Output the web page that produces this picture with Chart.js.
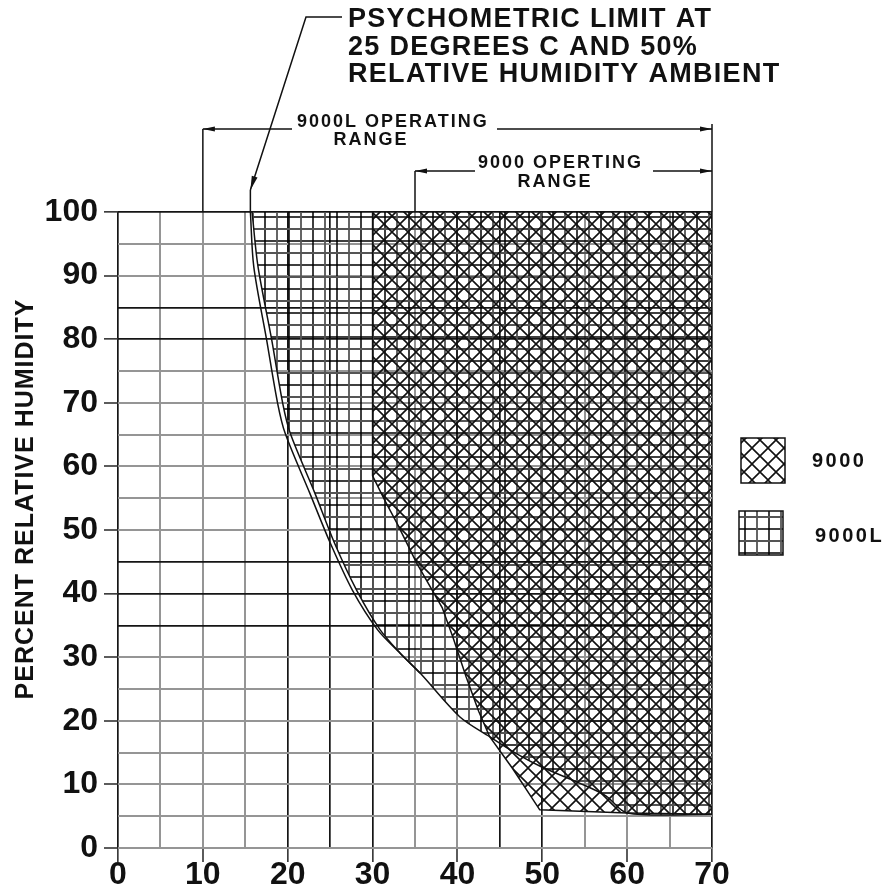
<!DOCTYPE html>
<html>
<head>
<meta charset="utf-8">
<title>Operating range</title>
<script src="https://cdn.jsdelivr.net/npm/chart.js@4.4.1/dist/chart.umd.min.js"></script>
<style>
  html, body { margin: 0; padding: 0; background: #fff; }
  #wrap { width: 888px; height: 892px; position: relative; }
</style>
</head>
<body>
<div id="wrap"><canvas id="chart"></canvas></div>
<script>
// Tick labels
const xTickLabels = [0, 10, 20, 30, 40, 50, 60, 70];
const yTickLabels = [0, 10, 20, 30, 40, 50, 60, 70, 80, 90, 100];

// Grid lines drawn dark instead of grey
const darkX = [0, 20, 25, 30, 45, 50, 70];
const darkY = [100, 85, 80, 45, 40, 35];

// 9000L region, lower/left boundary (inner psychometric line)
const range9000LX = [15.8, 16.5, 18.1, 19.4, 20.3, 23.2, 25.5, 28.1, 30.9, 33.2, 35.6, 40.3, 43.8, 47.0, 50.0, 54.4, 57.5, 60.0, 70.0];
const range9000LY = [100, 91.4, 80, 70, 65.2, 55.8, 48, 40.6, 34.3, 30.7, 27.5, 20.6, 17.5, 14.8, 12.7, 10.2, 8.2, 5.5, 5.3];

// psychometric limit, outer line
const limitX = [15.6, 16.0, 17.5, 18.8, 19.7, 22.6, 25.0, 27.6, 30.6, 33.2, 35.6];
const limitY = [100, 91.4, 80, 70, 65.2, 55.8, 48, 40.6, 34.3, 30.7, 27.5];

// 9000 region boundary
const range9000X = [30, 30, 31.5, 32.9, 35.2, 38.2, 39.5, 41.0, 42.5, 43.8, 46.5, 49.7, 60, 70];
const range9000Y = [100, 58.5, 54.5, 51, 44.8, 37.8, 33, 27, 21.5, 17.5, 12.5, 6, 5.5, 5.3];

// operating range dimension lines (x values)
const range9000LSpan = [10, 70];
const range9000Span = [35, 70];

const boldFont = "'Liberation Sans', Arial, sans-serif";
const narrowFont = "'Liberation Sans Narrow', 'Liberation Sans', Arial, sans-serif";

function toPoints(xs, ys) {
    return xs.map((x, i) => ({ x: x, y: ys[i] }));
}

// hatch patterns
function gridPattern() {
    const s = 24;
    const c = document.createElement('canvas');
    c.width = s; c.height = s;
    const g = c.getContext('2d');
    g.strokeStyle = '#000';
    g.lineWidth = 1.5;
    g.beginPath();
    g.moveTo(1, 0); g.lineTo(1, s);
    g.moveTo(0, 1); g.lineTo(s, 1);
    g.stroke();
    g.strokeStyle = '#555';
    g.lineWidth = 1.8;
    g.beginPath();
    g.moveTo(13, 0); g.lineTo(13, s);
    g.moveTo(0, 13); g.lineTo(s, 13);
    g.stroke();
    return g.createPattern(c, 'repeat');
}

function crossPattern() {
    const s = 16;
    const c = document.createElement('canvas');
    c.width = s; c.height = s;
    const g = c.getContext('2d');
    g.strokeStyle = '#111';
    g.lineWidth = 1.6;
    g.beginPath();
    [-s, 0, s].forEach(o => {
        g.moveTo(o, 0); g.lineTo(o + s, s);
        g.moveTo(o + s, 0); g.lineTo(o, s);
    });
    g.stroke();
    return g.createPattern(c, 'repeat');
}

const gridFill = gridPattern();
const crossFill = crossPattern();

function arrowHead(ctx, x1, y1, x2, y2, len, half) {
    const a = Math.atan2(y2 - y1, x2 - x1);
    ctx.beginPath();
    ctx.moveTo(x2, y2);
    ctx.lineTo(x2 - len * Math.cos(a) + half * Math.sin(a), y2 - len * Math.sin(a) - half * Math.cos(a));
    ctx.lineTo(x2 - len * Math.cos(a) - half * Math.sin(a), y2 - len * Math.sin(a) + half * Math.cos(a));
    ctx.closePath();
    ctx.fill();
}

function line(ctx, pts) {
    ctx.beginPath();
    ctx.moveTo(pts[0][0], pts[0][1]);
    for (let i = 1; i < pts.length; i++) ctx.lineTo(pts[i][0], pts[i][1]);
    ctx.stroke();
}

// annotations, legend and axis title
const annotations = {
    id: 'annotations',
    afterDraw(chart) {
        const ctx = chart.ctx;
        const xs = chart.scales.x, ys = chart.scales.y;
        const top = ys.getPixelForValue(100);
        ctx.save();
        ctx.fillStyle = '#111';
        ctx.strokeStyle = '#111';
        ctx.lineWidth = 1.5;

        // psychometric limit note
        ctx.font = 'bold 27px ' + boldFont;
        ctx.letterSpacing = '1.3px';
        ctx.textAlign = 'left';
        ctx.textBaseline = 'alphabetic';
        ctx.fillText('PSYCHOMETRIC LIMIT AT', 348, 27);
        ctx.fillText('25 DEGREES C AND 50%', 348, 55);
        ctx.fillText('RELATIVE HUMIDITY AMBIENT', 348, 82);
        const tipX = xs.getPixelForValue(limitX[0]);
        line(ctx, [[342, 17], [306, 17], [tipX, 190]]);
        arrowHead(ctx, 306, 17, tipX, 190, 14, 3);
        line(ctx, [[tipX, 190], [tipX, top]]);

        // 9000L operating range
        ctx.font = 'bold 18px ' + boldFont;
        ctx.letterSpacing = '2px';
        const l0 = xs.getPixelForValue(range9000LSpan[0]);
        const l1 = xs.getPixelForValue(range9000LSpan[1]);
        ctx.fillText('9000L OPERATING', 297, 127);
        ctx.textAlign = 'center';
        ctx.fillText('RANGE', 371, 145);
        line(ctx, [[l0, 129], [l0, top]]);
        line(ctx, [[l1, 124], [l1, top]]);
        line(ctx, [[292, 129], [l0, 129]]);
        arrowHead(ctx, 292, 129, l0, 129, 12, 2.5);
        line(ctx, [[497, 129], [l1, 129]]);
        arrowHead(ctx, 497, 129, l1, 129, 12, 2.5);

        // 9000 operating range
        const r0 = xs.getPixelForValue(range9000Span[0]);
        ctx.textAlign = 'left';
        ctx.fillText('9000 OPERTING', 478, 168);
        ctx.textAlign = 'center';
        ctx.fillText('RANGE', 555, 187);
        line(ctx, [[r0, 171], [r0, top]]);
        line(ctx, [[475, 171], [r0, 171]]);
        arrowHead(ctx, 475, 171, r0, 171, 12, 2.5);
        line(ctx, [[653, 171], [l1, 171]]);
        arrowHead(ctx, 653, 171, l1, 171, 12, 2.5);

        // legend
        ctx.lineWidth = 1.5;
        ctx.fillStyle = crossFill;
        ctx.fillRect(741, 438, 44, 45);
        ctx.strokeRect(741, 438, 44, 45);
        ctx.fillStyle = gridFill;
        ctx.fillRect(739, 511, 44, 44);
        ctx.strokeRect(739, 511, 44, 44);
        ctx.fillStyle = '#111';
        ctx.textAlign = 'left';
        ctx.textBaseline = 'middle';
        ctx.font = 'bold 20px ' + boldFont;
        ctx.letterSpacing = '2.5px';
        ctx.fillText('9000', 812, 461);
        ctx.fillText('9000L', 815, 536);

        // y axis title
        ctx.translate(26, 499);
        ctx.rotate(-Math.PI / 2);
        ctx.textAlign = 'center';
        ctx.font = 'bold 25px ' + boldFont;
        ctx.letterSpacing = '1px';
        ctx.fillText('PERCENT RELATIVE HUMIDITY', 0, 0);
        ctx.restore();
    }
};

function gridColor(dark) {
    return ctx => dark.includes(ctx.tick.value) ? '#151515' : '#959595';
}
function gridWidth(dark) {
    return ctx => dark.includes(ctx.tick.value) ? 1.7 : 2;
}
function tickMarkColor(labels) {
    return ctx => labels.includes(ctx.tick.value) ? '#333' : 'rgba(0,0,0,0)';
}

new Chart(document.getElementById('chart').getContext('2d'), {
    type: 'scatter',
    data: {
        datasets: [
            {
                label: '9000',
                data: toPoints(range9000X, range9000Y),
                showLine: true,
                fill: 'end',
                backgroundColor: crossFill,
                borderColor: '#111',
                borderWidth: 1.5,
                tension: 0,
                order: 1
            },
            {
                label: '9000L',
                data: toPoints(range9000LX, range9000LY),
                showLine: true,
                fill: 'end',
                backgroundColor: gridFill,
                borderColor: '#111',
                borderWidth: 1.5,
                tension: 0.3,
                order: 2
            },
            {
                label: 'Psychometric limit',
                data: toPoints(limitX, limitY),
                showLine: true,
                fill: false,
                borderColor: '#111',
                borderWidth: 1.5,
                tension: 0.3,
                order: 0
            }
        ]
    },
    options: {
        responsive: true,
        maintainAspectRatio: false,
        animation: false,
        layout: { padding: { top: 212, right: 176, left: 0, bottom: 0 } },
        elements: { point: { radius: 0, hoverRadius: 0 } },
        plugins: {
            legend: { display: false },
            tooltip: { enabled: false }
        },
        scales: {
            x: {
                type: 'linear',
                min: 0,
                max: 70,
                afterFit: s => { s.height = 44; },
                ticks: {
                    stepSize: 5,
                    autoSkip: false,
                    maxRotation: 0,
                    padding: -3,
                    color: '#111',
                    font: { family: narrowFont, size: 32, weight: 'bold', lineHeight: 1 },
                    callback: v => xTickLabels.includes(v) ? String(v) : ''
                },
                grid: {
                    color: gridColor(darkX),
                    lineWidth: gridWidth(darkX),
                    tickLength: 14,
                    tickColor: tickMarkColor(xTickLabels),
                    tickWidth: 1.6
                },
                border: { display: false }
            },
            y: {
                type: 'linear',
                min: 0,
                max: 100,
                afterFit: s => { s.width = 118; },
                ticks: {
                    stepSize: 5,
                    autoSkip: false,
                    padding: 6,
                    color: '#111',
                    font: { family: narrowFont, size: 32, weight: 'bold' },
                    callback: v => yTickLabels.includes(v) ? String(v) : ''
                },
                grid: {
                    color: gridColor(darkY),
                    lineWidth: gridWidth(darkY),
                    tickLength: 14,
                    tickColor: tickMarkColor(yTickLabels),
                    tickWidth: 1.6
                },
                border: { display: false }
            }
        }
    },
    plugins: [annotations]
});
</script>
</body>
</html>
